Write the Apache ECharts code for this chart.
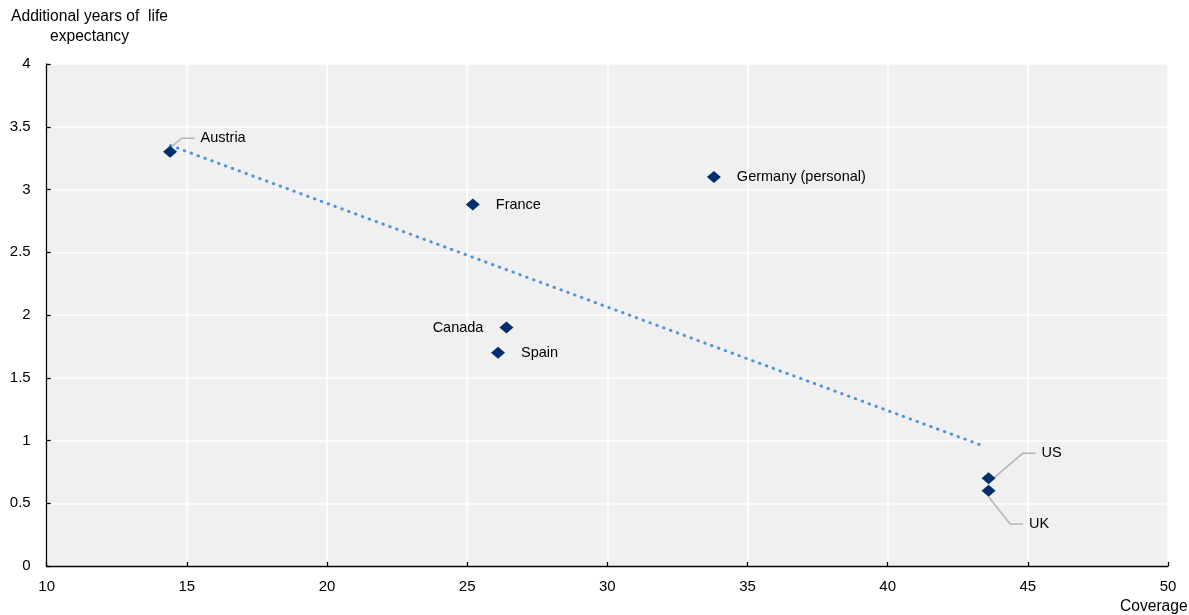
<!DOCTYPE html>
<html>
<head>
<meta charset="utf-8">
<script src="https://cdn.jsdelivr.net/npm/echarts@6/dist/echarts.min.js"></script>
<style>
html,body{margin:0;padding:0;background:#fff;}
#chart{width:1189px;height:615px;}
</style>
</head>
<body>
<div id="chart"></div>
<script>
// ---- data ----
var countries = ['Austria', 'France', 'Germany (personal)', 'Canada', 'Spain', 'US', 'UK'];
var coverage = [14.4, 25.2, 33.8, 26.4, 26.1, 43.6, 43.6];
var lifeYears = [3.3, 2.88, 3.1, 1.9, 1.7, 0.7, 0.6];
var trendX = [14.42, 43.37];
var trendY = [3.35, 0.96];
var xTicks = [10, 50, 5];
var yTicks = [0, 4, 0.5];
var yTitle = 'Additional years of  life\nexpectancy';
var xTitle = 'Coverage';

// ---- label placement (style, not data) ----
var labelSide = {Canada: 'left'};
var labelMove = {Austria: [7.5, -13.6], US: [30, -24.8], UK: [17.5, 33.3]};

var FONT = 'Arial, "Liberation Sans", sans-serif';

var points = countries.map(function (c, i) {
  var item = {name: c, value: [coverage[i], lifeYears[i]]};
  item.label = {position: labelSide[c] || 'right'};
  item.labelLine = {show: !!labelMove[c]};
  return item;
});
var trend = trendX.map(function (x, i) { return [x, trendY[i]]; });

var chart = echarts.init(document.getElementById('chart'), null, {renderer: 'canvas'});
var axisCommon = {
  axisLine: {show: true, onZero: false, lineStyle: {color: '#000', width: 1.3}},
  axisTick: {show: true, inside: true, length: 4, lineStyle: {color: '#000', width: 1.3}},
  splitLine: {show: true, lineStyle: {color: '#fff', width: 1.6}},
  axisLabel: {color: '#000', fontSize: 15, fontFamily: FONT}
};
chart.setOption({
  animation: false,
  grid: {left: 46.7, right: 21, top: 64, bottom: 49, show: true, backgroundColor: '#f0f0f0', borderWidth: 0, containLabel: false, outerBoundsMode: 'none'},
  xAxis: echarts.util.merge({
    type: 'value', min: xTicks[0], max: xTicks[1], interval: xTicks[2],
    axisLabel: {margin: 13}
  }, axisCommon),
  yAxis: echarts.util.merge({
    type: 'value', min: yTicks[0], max: yTicks[1], interval: yTicks[2],
    axisLabel: {margin: 16}
  }, axisCommon),
  graphic: [
    {type: 'text', x: 89.5, y: 7, style: {text: yTitle, font: '15.6px ' + FONT, fill: '#000', textAlign: 'center', textVerticalAlign: 'top', lineHeight: 20}, z: 10},
    {type: 'text', x: 1120, y: 607, style: {text: xTitle, font: '15.6px ' + FONT, fill: '#000', textAlign: 'left', textVerticalAlign: 'middle'}, z: 10}
  ],
  series: [
    {
      type: 'line', data: trend, symbol: 'none', silent: true, z: 1,
      lineStyle: {color: '#4f95dc', width: 3, type: [0.5, 6.8], cap: 'round', opacity: 1}
    },
    {
      type: 'scatter', data: points, symbol: 'diamond', symbolSize: [14, 12], z: 3,
      itemStyle: {color: '#002f6c', opacity: 1},
      label: {
        show: true, formatter: '{b}', distance: 10, padding: [0, 6, 0, 6],
        backgroundColor: 'rgba(0,0,0,0)',
        color: '#000', fontSize: 14.5, fontFamily: FONT, opacity: 1
      },
      labelLine: {show: false, length2: 13, lineStyle: {color: '#b5b5b5', width: 1.5, opacity: 1}},
      labelLayout: function (p) {
        var m = labelMove[p.name] || labelMove[countries[p.dataIndex]];
        if (!m) return {};
        return {dx: m[0], dy: m[1]};
      }
    }
  ]
});
</script>
</body>
</html>
